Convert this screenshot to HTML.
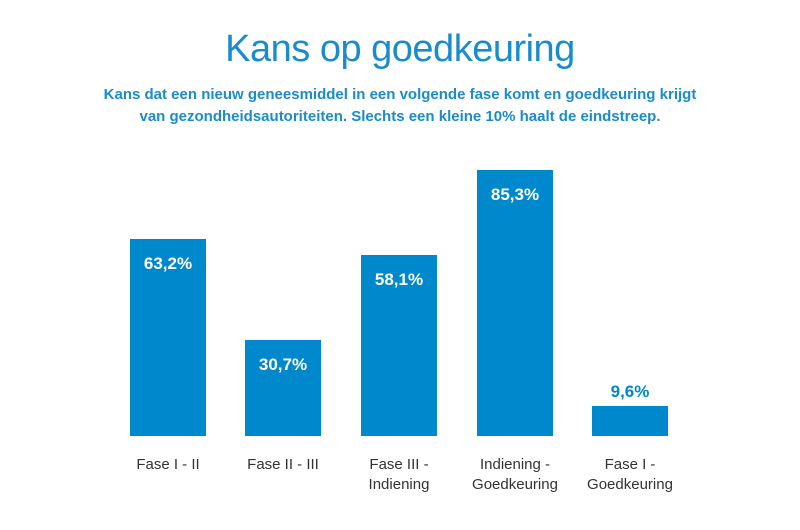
<!DOCTYPE html>
<html><head><meta charset="utf-8"><style>
body{margin:0;width:800px;height:530px;background:#fff;font-family:"Liberation Sans",sans-serif;position:relative;overflow:hidden}
.t{position:absolute;left:0;width:800px;text-align:center;color:#1a8ccd}
.bar{position:absolute;background:#0088cc;width:76px;bottom:94px}
.v{position:absolute;width:76px;text-align:center;font-weight:bold;font-size:17px;color:#fff}
.l{position:absolute;width:120px;text-align:center;font-size:15px;color:#333;line-height:20px;top:455px}
</style></head><body>
<div class="t" style="top:28px;font-size:38px;font-weight:300;letter-spacing:-0.5px">Kans op goedkeuring</div>
<div class="t" style="top:84px;font-size:15px;font-weight:bold;line-height:22px">Kans dat een nieuw geneesmiddel in een volgende fase komt en goedkeuring krijgt<br>van gezondheidsautoriteiten. Slechts een kleine 10% haalt de eindstreep.</div>
<div class="bar" style="left:130px;top:239px"></div><div class="v" style="left:130px;top:254px">63,2%</div>
<div class="bar" style="left:245px;top:340px"></div><div class="v" style="left:245px;top:355px">30,7%</div>
<div class="bar" style="left:361px;top:255px"></div><div class="v" style="left:361px;top:270px">58,1%</div>
<div class="bar" style="left:477px;top:170px"></div><div class="v" style="left:477px;top:185px">85,3%</div>
<div class="bar" style="left:592px;top:406px"></div><div class="v" style="left:592px;top:382px;color:#0088cc">9,6%</div>
<div class="l" style="left:108px">Fase I - II</div>
<div class="l" style="left:223px">Fase II - III</div>
<div class="l" style="left:339px">Fase III -<br>Indiening</div>
<div class="l" style="left:455px">Indiening -<br>Goedkeuring</div>
<div class="l" style="left:570px">Fase I -<br>Goedkeuring</div>
</body></html>
